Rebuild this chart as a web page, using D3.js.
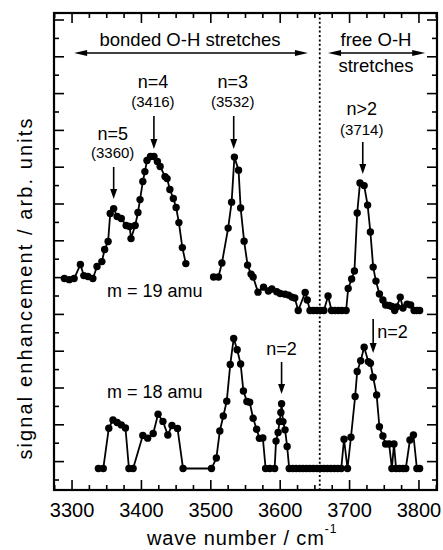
<!DOCTYPE html>
<meta charset="utf-8">
<style>
  body { margin: 0; background: #fff; }
  text {
    font-family: "Liberation Sans", Arial, Helvetica, sans-serif;
    fill: #000;
  }
  .frame { fill: none; stroke: #000; stroke-width: 2.2; }
  .tick { stroke: #000; stroke-width: 1.6; }
  .trace { fill: none; stroke: #000; stroke-width: 1.8; stroke-linejoin: round; }
  .divider { stroke: #000; stroke-width: 1.8; stroke-dasharray: 2 2.4; }
  .arrow { stroke: #000; stroke-width: 1.6; }
</style>

<svg width="443" height="550"></svg>
<script src="https://d3js.org/d3.v7.min.js"></script>
<script>
// m = 19 amu trace (signal above its own baseline, null = gap in the scan)
var m19Wave = [3289, 3296, 3303, 3312, 3317, 3323, 3330, 3336, 3343, 3347, 3352, 3355, 3360, 3365, 3371,
  3378, 3383, 3385, 3391, 3395, 3398, 3402, 3405, 3408, 3413, 3418, 3423, 3427, 3434, 3437, 3441, 3446,
  3450, 3454, 3459, 3464, 3485,
  3504, 3511, 3516, 3525, 3530, 3534, 3540, 3543, 3548, 3553, 3558, 3561, 3568, 3576, 3583, 3588, 3595,
  3600, 3607, 3612, 3617, 3621, 3626, 3636, 3639, 3643, 3648, 3653, 3658, 3663, 3669, 3674, 3679, 3684,
  3689, 3695, 3698, 3703, 3707, 3711, 3715, 3721, 3726, 3730, 3734, 3738, 3743, 3748, 3752, 3757, 3761,
  3765, 3768, 3773, 3777, 3783, 3788, 3793, 3797, 3801];
var m19Signal = [1.74, 1.68, 1.74, 2.50, 1.90, 1.85, 1.74, 2.39, 2.66, 3.32, 3.75, 5.27, 5.54, 5.11, 5.00,
  4.62, 4.57, 3.91, 4.62, 5.33, 6.03, 7.01, 7.55, 8.15, 8.37, 8.37, 8.10, 7.83, 7.28, 7.17, 6.58, 6.09,
  5.60, 4.78, 3.42, 2.55, null,
  1.82, 1.82, 2.58, 4.48, 5.89, 8.34, 7.63, 5.57, 3.77, 2.47, 1.98, 1.82, 1.00, 1.27, 1.06, 1.17, 1.02,
  0.93, 0.89, 0.84, 0.73, 0.68, 0, 0.98, 0.57, 0, 0, 0, 0, 0, 0.79, 0, 0, 0,
  0, 0, 1.20, 1.71, 2.15, 5.30, 6.93, 6.79, 5.73, 4.27, 2.36, 1.60, 0.90, 0.57, 0.30, 0.27, 0.22,
  0, 0.20, 0.73, 0.14, 0.35, 0.30, 0, 0, 0];

// m = 18 amu trace
var m18Wave = [3338, 3345, 3353, 3359, 3365, 3371, 3377, 3382, 3388, 3402, 3409, 3417, 3424, 3431, 3438,
  3444, 3452, 3460, 3501, 3508, 3513, 3518, 3523, 3528, 3533, 3538, 3543, 3547, 3552, 3556, 3561, 3566,
  3570, 3575, 3579, 3585, 3592, 3594, 3597, 3599, 3601, 3602, 3604, 3607, 3610, 3613, 3618, 3623, 3628,
  3633, 3638, 3643, 3648, 3653, 3658, 3663, 3668, 3673, 3678, 3683, 3688, 3692, 3697, 3702, 3708, 3711,
  3716, 3721, 3727, 3730, 3734, 3739, 3743, 3748, 3752, 3757, 3761, 3764, 3767, 3772, 3777, 3781, 3787,
  3792, 3797, 3801];
var m18Signal = [0, 0, 2.19, 2.64, 2.50, 2.37, 2.20, 0, 0, 1.80, 1.65, 1.90, 2.95, 2.56, 1.82,
  2.34, 2.18, 0, 0, 0.57, 2.04, 2.85, 3.66, 5.65, 7.07, 6.45, 5.68, 4.21, 3.64, 3.60, 2.73, 2.13,
  1.64, 1.66, 0, 0, 0, 1.49, 1.96, 2.55, 3.04, 3.52, 2.55, 2.10, 1.20, 0, 0, 0, 0,
  0, 0, 0, 0, 0, 0, 0, 0, 0, 0, 0, 0, 1.59, 0, 1.70, 3.91, 5.27,
  5.86, 6.59, 5.81, 5.72, 4.96, 4.00, 2.27, 1.77, 1.33, 1.33, 0, 1.33, 0, 0, 0, 0, 1.55,
  1.82, 0, 0];

var xTickLabels = [3300, 3400, 3500, 3600, 3700, 3800];
var peakNames = ["n=5", "n=4", "n=3", "n>2"];
var peakPositions = ["(3360)", "(3416)", "(3532)", "(3714)"];
var peakArrowWave = [3360, 3418, 3533, 3719];
var traceNames = ["m = 19 amu", "m = 18 amu"];
var dividerWave = 3657;

var svg = d3.select("svg");
var plotL = 54, plotR = 437, plotT = 13, plotB = 490;

var x = d3.scaleLinear().domain([3274, 3826]).range([plotL, plotR]);
// one unit = one y tick interval
var y = d3.scaleLinear().domain([-0.543, 25.38]).range([plotB, plotT]);
var offset19 = 9.21, offset18 = 0.625;

// ticks on all four sides, pointing inward
var xMinor = d3.range(3275, 3826, 25);
var ticks = svg.append("g");
xMinor.forEach(function(v) {
  var len = v % 100 === 0 ? 10 : 5;
  ticks.append("line").attr("class", "tick")
    .attr("x1", x(v)).attr("x2", x(v)).attr("y1", plotB).attr("y2", plotB - len);
  ticks.append("line").attr("class", "tick")
    .attr("x1", x(v)).attr("x2", x(v)).attr("y1", plotT).attr("y2", plotT + len);
});
d3.range(0, 26).forEach(function(k) {
  var len = k % 2 === 1 ? 10 : 5;
  ticks.append("line").attr("class", "tick")
    .attr("x1", plotL).attr("x2", plotL + len).attr("y1", y(k)).attr("y2", y(k));
  ticks.append("line").attr("class", "tick")
    .attr("x1", plotR).attr("x2", plotR - len).attr("y1", y(k)).attr("y2", y(k));
});

svg.append("rect").attr("class", "frame")
  .attr("x", plotL).attr("y", plotT)
  .attr("width", plotR - plotL).attr("height", plotB - plotT);

svg.selectAll(".xlab").data(xTickLabels).enter().append("text")
  .attr("class", "xlab")
  .attr("x", function(d) { return x(d); })
  .attr("y", 517)
  .attr("text-anchor", "middle")
  .style("font-size", "20px")
  .text(function(d) { return d; });

var xl = svg.append("text")
  .attr("x", 147).attr("y", 545)
  .style("font-size", "20px")
  .style("letter-spacing", "0.9px")
  .text("wave number / cm");
xl.append("tspan").attr("dy", -12).style("font-size", "12px").text("-1");

svg.append("text")
  .attr("transform", "translate(32,288) rotate(-90)")
  .attr("text-anchor", "middle")
  .style("font-size", "20px")
  .style("letter-spacing", "2.1px")
  .text("signal enhancement / arb. units");

// divider between bonded and free stretches
svg.append("line").attr("class", "divider")
  .attr("x1", x(dividerWave)).attr("x2", x(dividerWave))
  .attr("y1", plotT).attr("y2", plotB);

// traces
function drawTrace(waves, signals, off) {
  var pts = waves.map(function(w, i) { return { w: w, s: signals[i] }; });
  var line = d3.line()
    .defined(function(d) { return d.s !== null; })
    .x(function(d) { return x(d.w); })
    .y(function(d) { return y(d.s + off); });
  svg.append("path").attr("class", "trace").attr("d", line(pts));
  svg.append("g").selectAll("circle")
    .data(pts.filter(function(d) { return d.s !== null; }))
    .enter().append("circle")
    .attr("cx", function(d) { return x(d.w); })
    .attr("cy", function(d) { return y(d.s + off); })
    .attr("r", 3.7);
}
drawTrace(m19Wave, m19Signal, offset19);
drawTrace(m18Wave, m18Signal, offset18);

// arrows
function vArrow(xp, y1, y2) {
  svg.append("line").attr("class", "arrow")
    .attr("x1", xp).attr("x2", xp).attr("y1", y1).attr("y2", y2 - 8);
  svg.append("path")
    .attr("d", "M" + (xp - 3.5) + "," + (y2 - 10) + "L" + (xp + 3.5) + "," + (y2 - 10) + "L" + xp + "," + y2 + "Z");
}
function hArrow(x1, x2, yp) {
  svg.append("line").attr("class", "arrow")
    .attr("x1", x1 + 8).attr("x2", x2 - 8).attr("y1", yp).attr("y2", yp);
  svg.append("path")
    .attr("d", "M" + x1 + "," + yp + "L" + (x1 + 13) + "," + (yp - 3) + "L" + (x1 + 13) + "," + (yp + 3) + "Z");
  svg.append("path")
    .attr("d", "M" + x2 + "," + yp + "L" + (x2 - 13) + "," + (yp - 3) + "L" + (x2 - 13) + "," + (yp + 3) + "Z");
}

hArrow(x(3303), x(3640), 53);
hArrow(x(3669), x(3809), 53);
svg.append("text").attr("x", 190).attr("y", 46).attr("text-anchor", "middle")
  .style("font-size", "18.5px").text("bonded O-H stretches");
svg.append("text").attr("x", 376).attr("y", 46).attr("text-anchor", "middle")
  .style("font-size", "18.5px").text("free O-H");
svg.append("text").attr("x", 376).attr("y", 72).attr("text-anchor", "middle")
  .style("font-size", "18.5px").text("stretches");

// peak labels: name baseline, position baseline, arrow start, arrow tip
var peakLayout = [[140, 158, 167, 199], [88, 107, 116, 149], [88, 107, 116, 149], [115, 135, 142, 174]];
peakNames.forEach(function(name, i) {
  var xp = x(peakArrowWave[i]), L = peakLayout[i];
  svg.append("text").attr("x", xp - 1).attr("y", L[0]).attr("text-anchor", "middle")
    .style("font-size", "18px").text(name);
  svg.append("text").attr("x", xp - 1).attr("y", L[1]).attr("text-anchor", "middle")
    .style("font-size", "15px").text(peakPositions[i]);
  vArrow(xp, L[2], L[3]);
});

// n=2 labels on the m = 18 trace
svg.append("text").attr("x", x(3602)).attr("y", 355).attr("text-anchor", "middle")
  .style("font-size", "18px").text("n=2");
vArrow(x(3602), 362, 394);
svg.append("text").attr("x", x(3734) + 4).attr("y", 338)
  .style("font-size", "18px").text("n=2");
vArrow(x(3734), 319, 353);

svg.append("text").attr("x", 107).attr("y", 297).style("font-size", "18px").text(traceNames[0]);
svg.append("text").attr("x", 107).attr("y", 398).style("font-size", "18px").text(traceNames[1]);
</script>
